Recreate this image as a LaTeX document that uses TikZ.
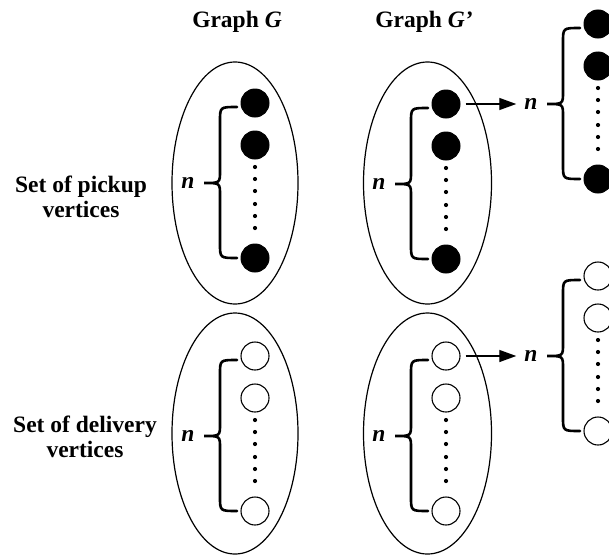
\documentclass[tikz,border=0pt]{standalone}
\usepackage{fontspec}
\setmainfont{Liberation Serif}
\usetikzlibrary{arrows.meta}

% One column of vertices: two circles, six dots, a last circle, a brace and its "n"
% #1 name prefix, #2 x of the circles, #3 y of the first circle, #4 vertex style
\newcommand{\vertexcolumn}[4]{%
  \node[#4] (#1a) at (#2,#3) {};
  \node[#4] (#1b) at (#2,#3+42) {};
  \foreach \d in {64,76,88,101,113,125} \fill (#2,#3+\d) circle (2.1);
  \node[#4] (#1c) at (#2,#3+155) {};
  \draw[bracestyle] (#2-18,#3+4) .. controls (#2-35,#3+4) .. (#2-35,#3+18)
    -- (#2-35,#3+68) .. controls (#2-35,#3+80) .. (#2-51,#3+80)
    .. controls (#2-35,#3+80) .. (#2-35,#3+92)
    -- (#2-35,#3+141) .. controls (#2-35,#3+155) .. (#2-18,#3+155);
  \node[nlabel] (#1n) at (#2-67,#3+80) {\textit{n}};
}

\begin{document}
\begin{tikzpicture}[x=1pt,y=-1pt,
  every node/.style={font=\fontsize{23.5}{25}\selectfont\bfseries},
  solidv/.style={circle,fill=black,draw=black,line width=1pt,minimum size=28pt,inner sep=0pt},
  openv/.style={circle,fill=white,draw=black,line width=1.1pt,minimum size=28pt,inner sep=0pt},
  bracestyle/.style={line width=2.6pt,line cap=round},
  nlabel/.style={inner sep=0pt},
  groupshape/.style={line width=1.2pt},
  arr/.style={line width=1.4pt,-{Triangle[length=17pt,width=12pt]},shorten <=5pt,shorten >=8pt}]

  \useasboundingbox[fill=white] (0,0) rectangle (609,557);

  % column titles
  \node[anchor=base] (tg) at (237,27) {Graph \textit{G}};
  \node[anchor=base] (tgp) at (424,27) {Graph \textit{G’}};

  % row labels
  \node[align=center] (lp) at (81,196.5) {Set of pickup\\vertices};
  \node[align=center] (ld) at (85,436.5) {Set of delivery\\vertices};

  % the four vertex sets
  \draw[groupshape] (235,183) ellipse (63 and 121);
  \draw[groupshape] (235,433.5) ellipse (63 and 120.5);
  \draw[groupshape] (427.5,183) ellipse (64 and 121);
  \draw[groupshape] (427.5,433.5) ellipse (64 and 120.5);

  % graph G
  \vertexcolumn{gp}{255}{103}{solidv}
  \vertexcolumn{gd}{255}{356}{openv}

  % graph G'
  \vertexcolumn{hp}{446}{104}{solidv}
  \vertexcolumn{hd}{446}{356}{openv}

  % copies obtained from the first vertex of each set in G'
  \vertexcolumn{rp}{598}{24}{solidv}
  \vertexcolumn{rd}{598}{276}{openv}

  \draw[arr] (hpa.east) -- (rpn.west);
  \draw[arr] (hda.east) -- (rdn.west);
\end{tikzpicture}
\end{document}
